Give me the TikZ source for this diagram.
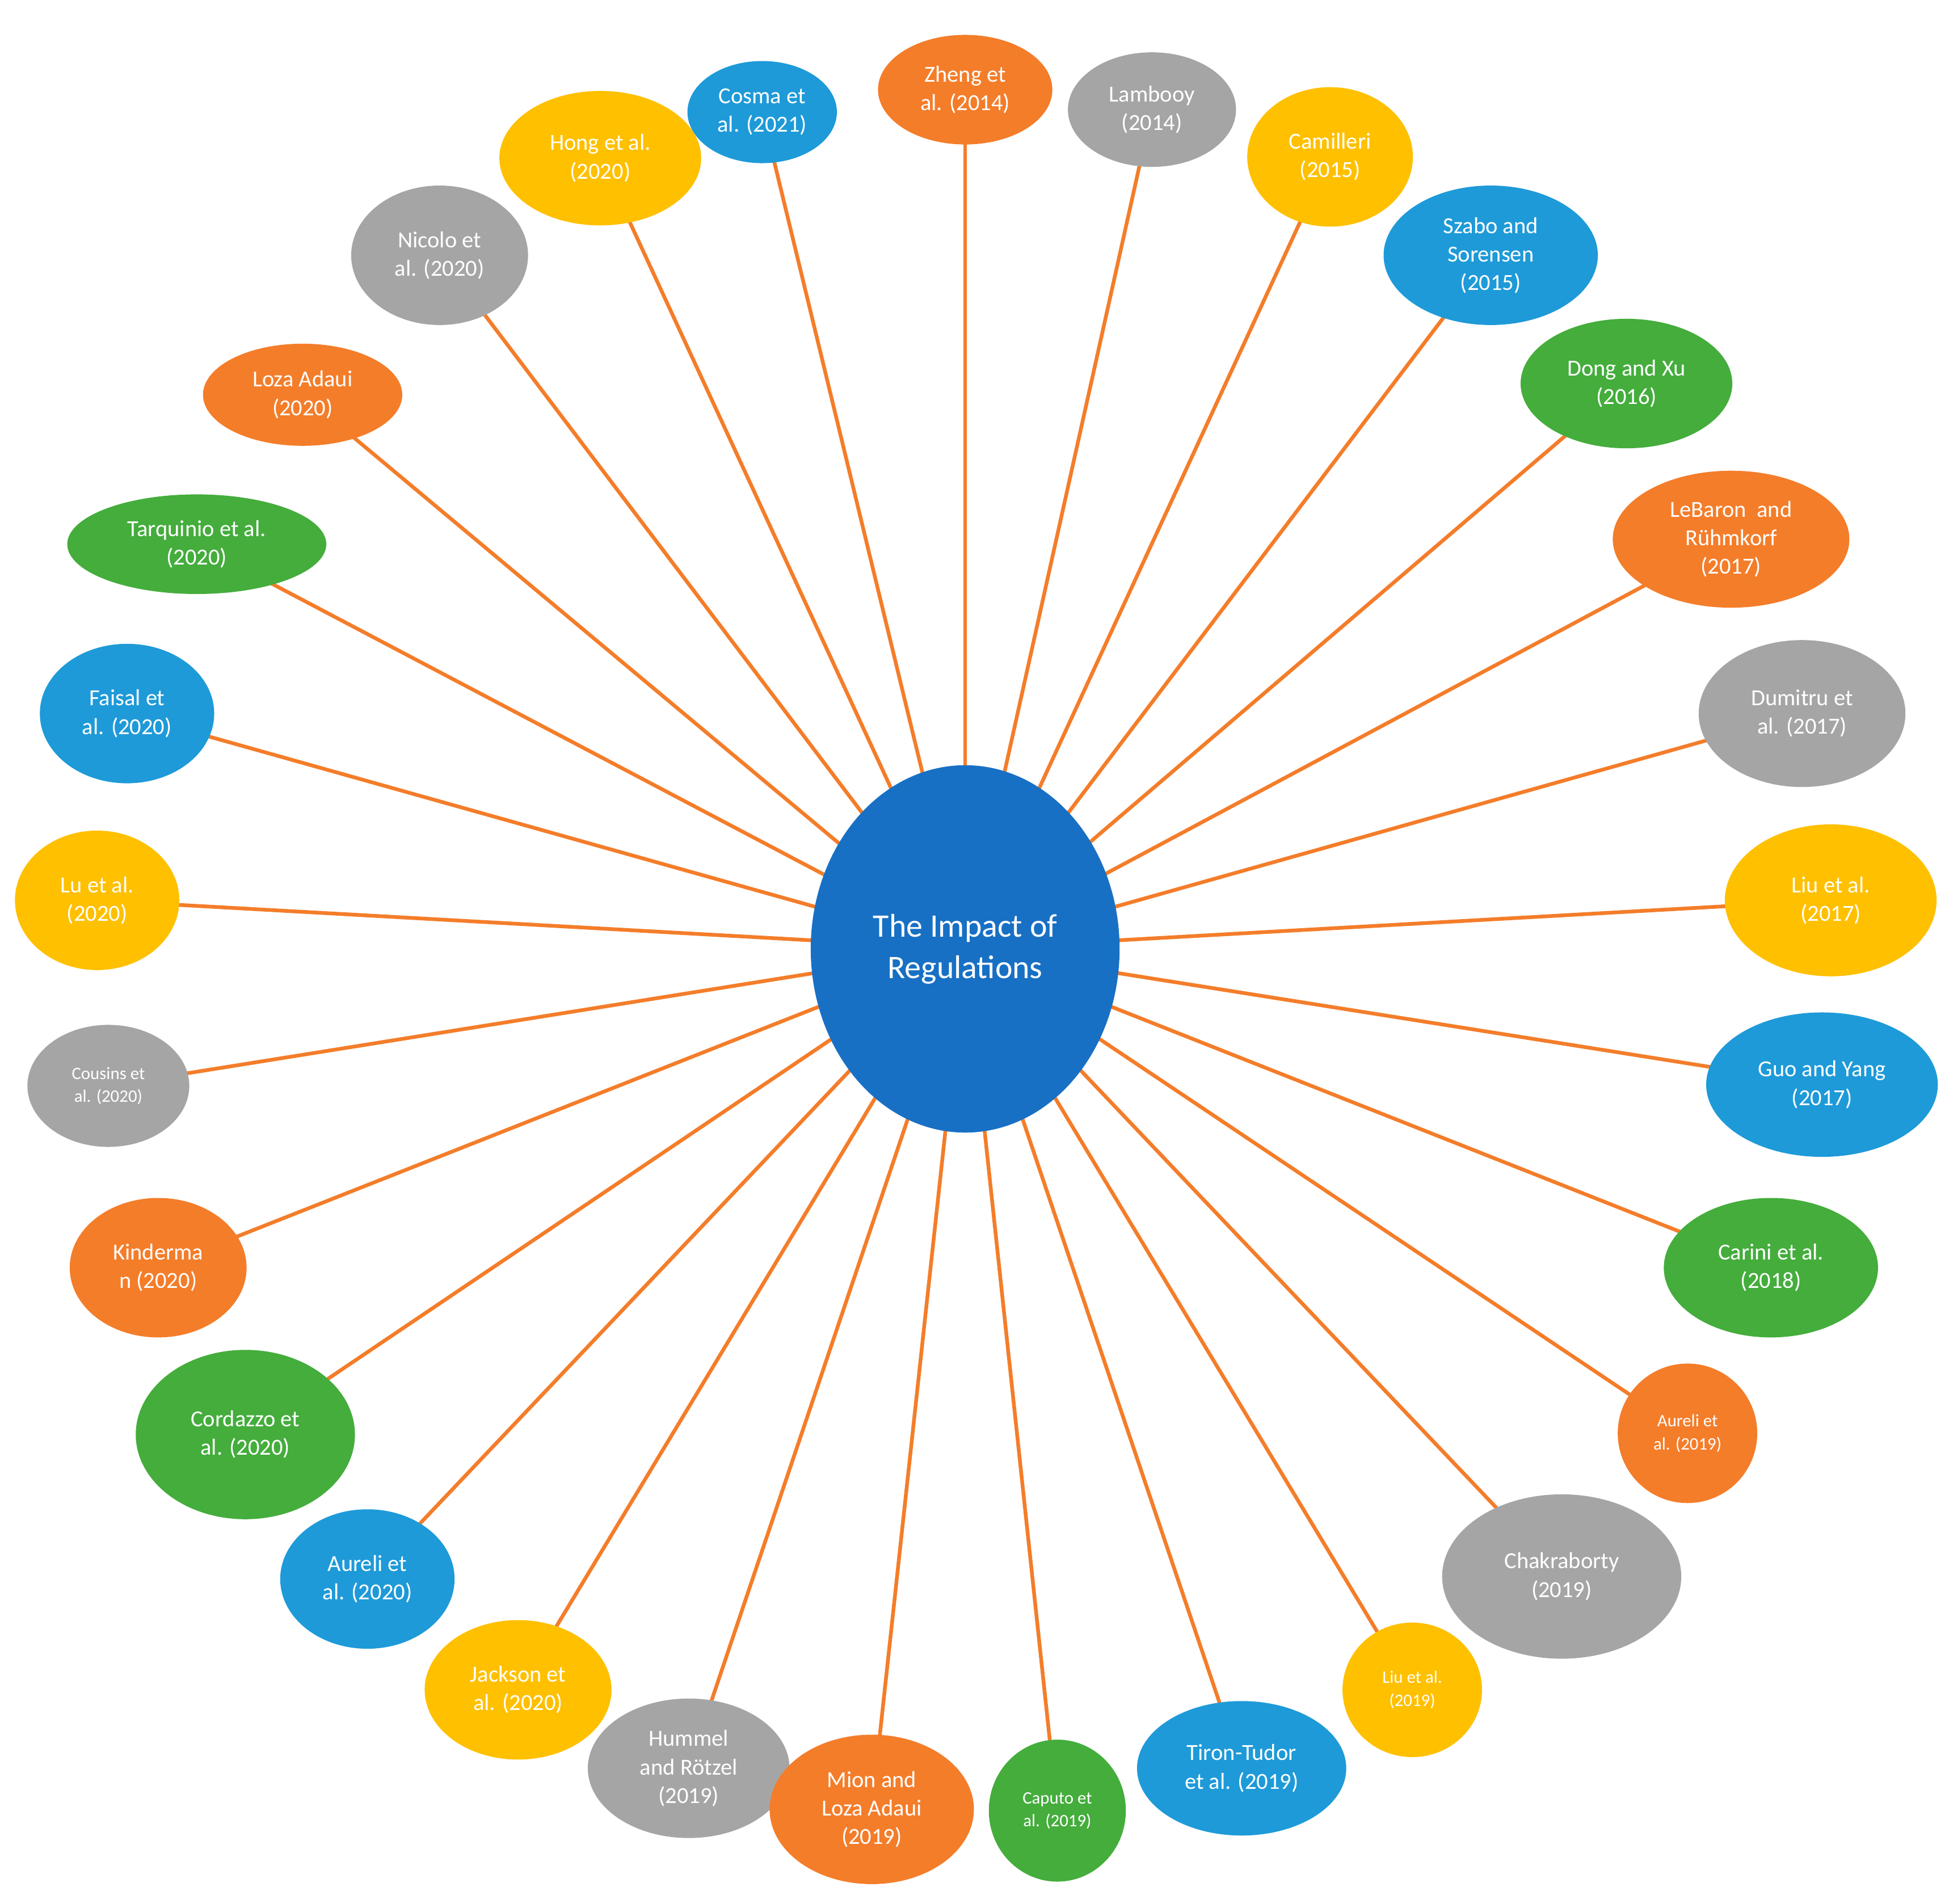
\documentclass[tikz,border=0pt]{standalone}
\usepackage{fontspec}
\setmainfont{Carlito}
\usetikzlibrary{shapes.geometric,backgrounds}
\definecolor{cor}{HTML}{F47D2A}
\definecolor{cbl}{HTML}{1E9AD8}
\definecolor{cye}{HTML}{FFC000}
\definecolor{cgr}{HTML}{A5A5A5}
\definecolor{cgn}{HTML}{44AD3C}
\definecolor{cmain}{HTML}{1870C4}
\newcommand\B[8][]{\node[bub,fill=#7,minimum width=#5*0.02cm,minimum height=#6*0.02cm,#1] (#2) at (#3,#4) {#8};}
\begin{document}
\begin{tikzpicture}[x=0.02cm,y=-0.02cm,
  bub/.style={ellipse,draw=none,text=white,align=center,inner sep=0pt,font=\fontsize{10.5}{13}\selectfont},
  sm/.style={font=\fontsize{8}{10.5}\selectfont},
  lk/.style={draw=cor,line width=1.7pt}]
\useasboundingbox (0,0) rectangle (1565,1529);
\node[bub,fill=cmain,minimum width=248*0.02cm,minimum height=295*0.02cm,font=\fontsize{15}{19}\selectfont] (c) at (775,762) {The Impact of\\Regulations};
\B{n1}{775}{72}{140}{88}{cor}{Zheng et\\al. (2014)}
\B{n2}{612}{90}{120}{82}{cbl}{Cosma et\\al. (2021)}
\B{n3}{925}{88}{135}{92}{cgr}{Lambooy\\(2014)}
\B{n4}{482}{127}{162}{108}{cye}{Hong et al.\\(2020)}
\B{n5}{1068}{126}{133}{112}{cye}{Camilleri\\(2015)}
\B{n6}{353}{205}{142}{112}{cgr}{Nicolo et\\al. (2020)}
\B{n7}{1197}{205}{172}{112}{cbl}{Szabo and\\Sorensen\\(2015)}
\B{n8}{243}{317}{160}{82}{cor}{Loza Adaui\\(2020)}
\B{n9}{1306}{308}{170}{104}{cgn}{Dong and Xu\\(2016)}
\B{n10}{158}{437}{208}{80}{cgn}{Tarquinio et al.\\(2020)}
\B{n11}{1390}{433}{190}{110}{cor}{LeBaron~ and\\Rühmkorf\\(2017)}
\B{n12}{102}{573}{140}{112}{cbl}{Faisal et\\al. (2020)}
\B{n13}{1447}{573}{166}{118}{cgr}{Dumitru et\\al. (2017)}
\B{n14}{78}{723}{132}{112}{cye}{Lu et al.\\(2020)}
\B{n15}{1470}{723}{170}{122}{cye}{Liu et al.\\(2017)}
\B[sm]{n16}{87}{872}{130}{98}{cgr}{Cousins et\\al. (2020)}
\B{n17}{1463}{871}{186}{116}{cbl}{Guo and Yang\\(2017)}
\B{n18}{127}{1018}{142}{112}{cor}{Kinderma\\n (2020)}
\B{n19}{1422}{1018}{172}{112}{cgn}{Carini et al.\\(2018)}
\B{n20}{197}{1152}{176}{136}{cgn}{Cordazzo et\\al. (2020)}
\B[sm]{n21}{1355}{1151}{112}{112}{cor}{Aureli et\\al. (2019)}
\B{n22}{295}{1268}{140}{112}{cbl}{Aureli et\\al. (2020)}
\B{n23}{1254}{1266}{192}{132}{cgr}{Chakraborty\\(2019)}
\B{n24}{416}{1357}{150}{112}{cye}{Jackson et\\al. (2020)}
\B[sm]{n25}{1134}{1357}{112}{108}{cye}{Liu et al.\\(2019)}
\B{n26}{553}{1420}{162}{112}{cgr}{Hummel\\and Rötzel\\(2019)}
\B{n27}{997}{1420}{168}{108}{cbl}{Tiron-Tudor\\et al. (2019)}
\B{n28}{700}{1453}{164}{120}{cor}{Mion and\\Loza Adaui\\(2019)}
\B[sm]{n29}{849}{1454}{110}{114}{cgn}{Caputo et\\al. (2019)}
\begin{pgfonlayer}{background}
\foreach \i in {1,...,29} {\draw[lk] (c.center) -- (n\i.center);}
\end{pgfonlayer}
\end{tikzpicture}
\end{document}
